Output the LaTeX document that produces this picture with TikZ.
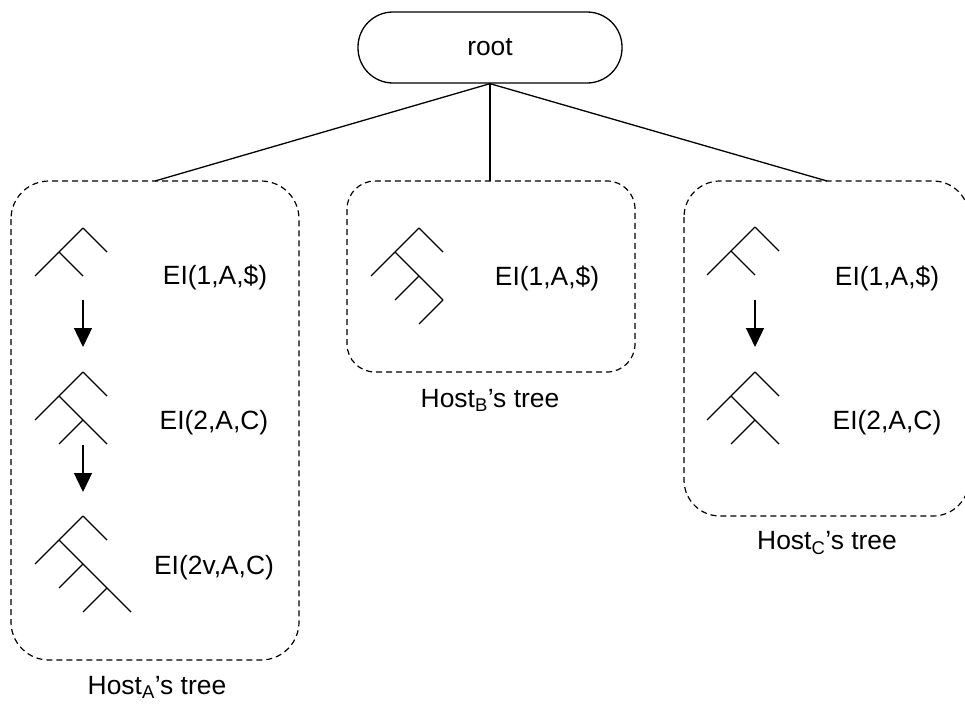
\documentclass[tikz,border=0pt]{standalone}
\usepackage{fontspec}
\setmainfont{Liberation Sans}
\usetikzlibrary{arrows.meta}
\tikzset{
  lbl/.style={font=\fontsize{26.4}{30}\selectfont, inner sep=0pt},
  rootbox/.style={draw, line width=1.3pt, rounded corners=35pt, minimum width=264pt, minimum height=71pt, inner sep=0pt},
  hostbox/.style={draw, dashed, dash pattern=on 6pt off 4pt, line width=1.2pt},
  link/.style={line width=1.3pt},
  flow/.style={line width=1.3pt, -{Triangle[width=18pt,length=19pt]}},
  glyph/.style={line width=1.3pt},
  % one-level tree
  treeone/.pic={
    \draw[glyph] (0,0) -- (24,24) (0,0) -- (-48,48) (-24,24) -- (0,48);
  },
  % two-level tree
  treetwo/.pic={
    \draw[glyph] (0,0) -- (24,24) (0,0) -- (-48,48) (-24,24) -- (24,72) (0,48) -- (-24,72);
  },
  % three-level tree
  treethree/.pic={
    \draw[glyph] (0,0) -- (24,24) (0,0) -- (-48,48) (-24,24) -- (48,96)
                 (0,48) -- (-24,72) (24,72) -- (0,96);
  },
  % two-level tree with trailing leaf
  treemid/.pic={
    \draw[glyph] (0,0) -- (24,24) (0,0) -- (-48,48) (-24,24) -- (24,72)
                 (0,48) -- (-24,72) (24,72) -- (0,96);
  },
}
\begin{document}
\begin{tikzpicture}[x=1pt, y=-1pt]
\useasboundingbox (0,0) rectangle (965,704);

% root
\node[rootbox, lbl] (root) at (490,47.5) {root};

% host boxes
\draw[hostbox, rounded corners=38pt] (11,181) rectangle (299,660);
\draw[hostbox, rounded corners=28pt] (347,181) rectangle (635,372);
\draw[hostbox, rounded corners=36pt] (684,181) rectangle (969,516);

\coordinate (topA) at (155,181);
\coordinate (topB) at (490,181);
\coordinate (topC) at (827,181);

\draw[link] (root.south) -- (topA);
\draw[link] (root.south) -- (topB);
\draw[link] (root.south) -- (topC);

% host A
\pic at (83,228) {treeone};
\pic at (83,372) {treetwo};
\pic at (83,516) {treethree};
\node[lbl] (a1) at (215,277) {EI(1,A,\$)};
\node[lbl] (a2) at (214,423) {EI(2,A,C)};
\node[lbl] (a3) at (214,568) {EI(2v,A,C)};
\coordinate (a1s) at (83,300);
\coordinate (a1e) at (83,347);
\coordinate (a2s) at (83,445);
\coordinate (a2e) at (83,492);
\draw[flow] (a1s) -- (a1e);
\draw[flow] (a2s) -- (a2e);
\node[lbl] (hostA) at (157,687) {Host\textsubscript{A}’s tree};

% host B
\pic at (419,228) {treemid};
\node[lbl] (b1) at (547,278) {EI(1,A,\$)};
\node[lbl] (hostB) at (490,400) {Host\textsubscript{B}’s tree};

% host C
\pic at (755,227) {treeone};
\pic at (755,372) {treetwo};
\node[lbl] (c1) at (887,278) {EI(1,A,\$)};
\node[lbl] (c2) at (887,423) {EI(2,A,C)};
\coordinate (c1s) at (755,300);
\coordinate (c1e) at (755,347);
\draw[flow] (c1s) -- (c1e);
\node[lbl] (hostC) at (827,543) {Host\textsubscript{C}’s tree};
\end{tikzpicture}
\end{document}
